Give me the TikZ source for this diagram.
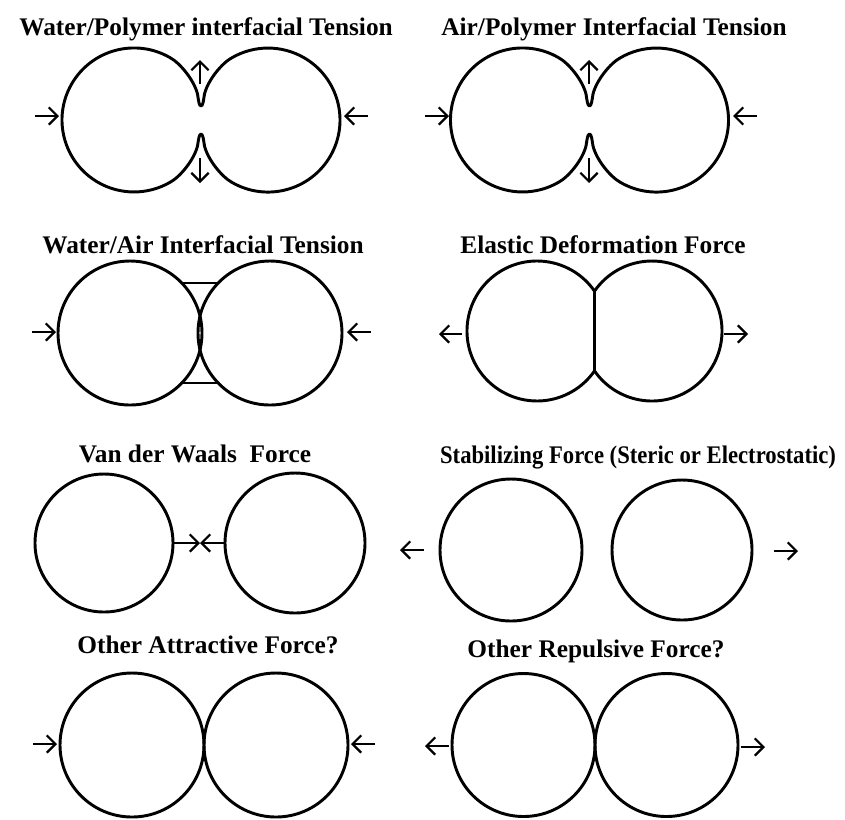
\documentclass[tikz,border=0pt]{standalone}
\usepackage{fontspec}
\setmainfont{Liberation Serif}
\usetikzlibrary{arrows.meta,calc}
\newcommand\pinchpath{%
  (170,57.6) arc[start angle=-60, end angle=-300, radius=72]
  .. controls (180,177) and (194,160) .. (197.5,146)
  .. controls (198.5,140) and (199,134) .. (201,134)
  .. controls (203,134) and (203.5,140) .. (204.5,146)
  .. controls (208,160) and (222,177) .. (232,182.4)
  arc[start angle=120, end angle=-120, radius=72]
  .. controls (222,63) and (208,80) .. (204.5,94)
  .. controls (203.5,100) and (203,106) .. (201,106)
  .. controls (199,106) and (198.5,100) .. (197.5,94)
  .. controls (194,80) and (180,63) .. cycle}
\begin{document}
\begin{tikzpicture}[x=0.75pt,y=-0.75pt,
  outline/.style={line width=2.2pt, line join=round},
  force/.style={line width=1.7pt, -{Straight Barb[length=6.5pt,width=13pt]}},
  title/.style={font=\bfseries\fontsize{19}{22}\selectfont, anchor=base, inner sep=0pt}]
\useasboundingbox[fill=white] (0,0) rectangle (845,819);

% ---------- titles ----------
\node[title] (t1) at (206,35) {Water/Polymer interfacial Tension};
\node[title] (t2) at (614,35) {Air/Polymer Interfacial Tension};
\node[title] (t3) at (203,253) {Water/Air Interfacial Tension};
\node[title] (t4) at (603,253) {Elastic Deformation Force};
\node[title] (t5) at (195,462) {Van der Waals\ \ Force};
\node[title] (t6) at (638,463) {\scalebox{0.895}[1]{Stabilizing Force (Steric or Electrostatic)}};
\node[title] (t7) at (208,653) {Other Attractive Force?};
\node[title] (t8) at (596,657) {Other Repulsive Force?};

% ---------- panel 1: water/polymer ----------
\draw[outline] \pinchpath;
\coordinate (p1a) at (35,116);  \coordinate (p1b) at (59,116);
\coordinate (p1c) at (368,116); \coordinate (p1d) at (344,116);
\coordinate (p1e) at (200,84);  \coordinate (p1f) at (200,60);
\coordinate (p1g) at (200,158); \coordinate (p1h) at (200,183);
\draw[force] (p1a) -- (p1b);
\draw[force] (p1c) -- (p1d);
\draw[force] (p1e) -- (p1f);
\draw[force] (p1g) -- (p1h);

% ---------- panel 2: air/polymer ----------
\begin{scope}[shift={(388.5,0)}]
\draw[outline] \pinchpath;
\end{scope}
\coordinate (p2a) at (425,116);  \coordinate (p2b) at (449,116);
\coordinate (p2c) at (757,116);  \coordinate (p2d) at (733,116);
\coordinate (p2e) at (589,84);   \coordinate (p2f) at (589,60);
\coordinate (p2g) at (589,158);  \coordinate (p2h) at (589,183);
\draw[force] (p2a) -- (p2b);
\draw[force] (p2c) -- (p2d);
\draw[force] (p2e) -- (p2f);
\draw[force] (p2g) -- (p2h);

% ---------- panel 3: water/air ----------
\draw[outline] (130,333) circle[radius=72];
\draw[outline] (270,333) circle[radius=72];
\coordinate (b3a) at (181.8,283); \coordinate (b3b) at (218.2,283);
\coordinate (b3c) at (181.8,383); \coordinate (b3d) at (218.2,383);
\draw[outline] (b3a) -- (b3b);
\draw[outline] (b3c) -- (b3d);
\coordinate (p3a) at (32,332);  \coordinate (p3b) at (56,332);
\coordinate (p3c) at (371,332); \coordinate (p3d) at (347,332);
\draw[force] (p3a) -- (p3b);
\draw[force] (p3c) -- (p3d);

% ---------- panel 4: elastic deformation ----------
\draw[outline] (594.5,291.1) arc[start angle=-34.75, end angle=-325.25, radius=70]
  arc[start angle=145.25, end angle=-145.25, radius=70] -- cycle;
\coordinate (n4a) at (594.5,291.1); \coordinate (n4b) at (594.5,370.9);
\draw[outline] (n4a) -- (n4b);
\coordinate (p4a) at (462,334); \coordinate (p4b) at (439,334);
\coordinate (p4c) at (724,334); \coordinate (p4d) at (748,334);
\draw[force] (p4a) -- (p4b);
\draw[force] (p4c) -- (p4d);

% ---------- panel 5: van der Waals ----------
\draw[outline] (104,543) circle[radius=69];
\draw[outline] (295,543) circle[radius=70];
\coordinate (v5a) at (173,543); \coordinate (v5m) at (200,543);
\coordinate (v5b) at (225,543);
\draw[force] (v5a) -- (v5m);
\draw[force] (v5b) -- (v5m);

% ---------- panel 6: stabilizing ----------
\draw[outline] (511,550) circle[radius=71];
\draw[outline] (682,550) circle[radius=70];
\coordinate (p6a) at (424,550); \coordinate (p6b) at (400,550);
\coordinate (p6c) at (774,551); \coordinate (p6d) at (798,551);
\draw[force] (p6a) -- (p6b);
\draw[force] (p6c) -- (p6d);

% ---------- panel 7: other attractive ----------
\draw[outline] (132,745) circle[radius=72];
\draw[outline] (276,745) circle[radius=72];
\coordinate (p7a) at (33,744);  \coordinate (p7b) at (57,744);
\coordinate (p7c) at (375,744); \coordinate (p7d) at (351,744);
\draw[force] (p7a) -- (p7b);
\draw[force] (p7c) -- (p7d);

% ---------- panel 8: other repulsive ----------
\draw[outline] (523.5,745) circle[radius=71.5];
\draw[outline] (666.5,745) circle[radius=71.5];
\coordinate (p8a) at (449,746); \coordinate (p8b) at (425,746);
\coordinate (p8c) at (741,747); \coordinate (p8d) at (765,747);
\draw[force] (p8a) -- (p8b);
\draw[force] (p8c) -- (p8d);
\end{tikzpicture}
\end{document}
